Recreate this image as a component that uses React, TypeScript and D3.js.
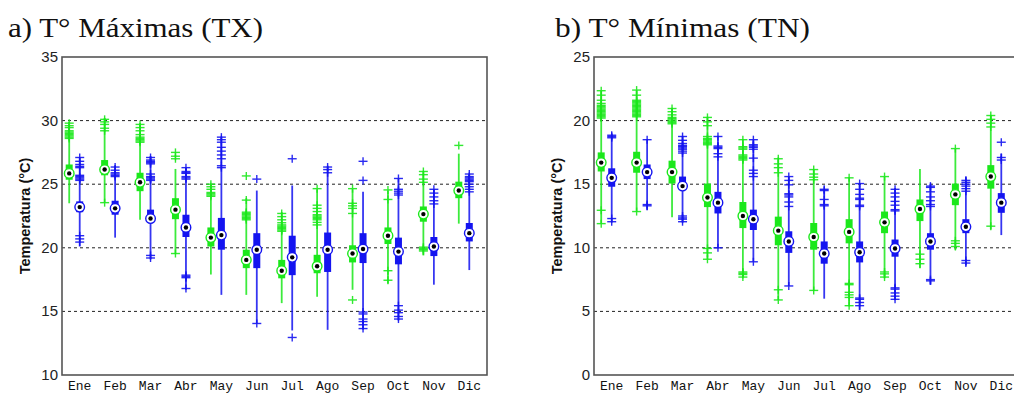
import React from "react";
import * as d3 from "d3";

const months = ["Ene", "Feb", "Mar", "Abr", "May", "Jun", "Jul", "Ago", "Sep", "Oct", "Nov", "Dic"];
const txTicks = [10, 15, 20, 25, 30, 35];
const tnTicks = [0, 5, 10, 15, 20, 25];

// [whisker low, q1, median, q3, whisker high] per month
const txGreenBox = [
  [23.5, 25.35, 25.85, 26.55, 29.9], [23.55, 25.7, 26.15, 26.9, 30.2], [22.2, 24.45, 25.15, 25.9, 29.8],
  [19.5, 22.25, 23.0, 23.9, 26.2], [17.9, 20.1, 20.8, 21.6, 25.0], [16.3, 18.4, 19.05, 19.85, 23.9],
  [15.65, 17.6, 18.2, 19.05, 22.8], [16.15, 18.0, 18.55, 19.45, 24.6], [16.7, 18.85, 19.55, 20.2, 24.6],
  [17.2, 20.3, 20.95, 21.6, 24.5], [19.4, 22.05, 22.65, 23.25, 26.0], [21.9, 23.9, 24.5, 25.2, 27.4],
];
const txGreenOut = [
  [29.8, 29.6, 29.45, 29.2, 29.1, 29.0, 28.9, 28.8, 28.7, 28.6],
  [30.1, 29.9, 29.7, 29.4, 29.2, 23.55],
  [29.7, 29.45, 29.2, 28.9, 28.7, 28.6, 28.5, 28.4, 28.3],
  [27.5, 27.2, 27.0, 19.55],
  [25.0, 24.8, 24.6, 24.35, 24.25, 24.15, 24.05],
  [25.65, 23.75, 22.8, 22.7, 22.6, 22.5, 22.4, 22.3, 22.2],
  [22.7, 22.45, 22.2, 21.97, 21.8, 21.7, 21.6, 21.5, 21.4, 21.3],
  [24.65, 23.35, 23.1, 22.85, 22.6, 22.5, 22.4, 22.3, 22.2, 22.0, 21.8],
  [24.65, 23.5, 23.3, 23.1, 22.7, 15.9],
  [24.55, 23.8, 18.2, 17.45],
  [26.0, 25.75, 25.4, 25.15, 20.05, 19.95, 19.85, 19.75],
  [28.05],
];
const txBlueBox = [
  [20.1, 22.8, 23.2, 23.65, 27.1], [20.8, 22.6, 23.1, 23.7, 26.5], [19.1, 21.95, 22.3, 23.0, 27.2],
  [16.7, 20.85, 21.6, 22.6, 26.3], [16.3, 19.85, 21.0, 22.35, 28.7], [14.05, 18.4, 19.85, 21.15, 24.5],
  [13.5, 17.85, 19.25, 20.95, 24.9], [13.55, 18.1, 19.85, 21.2, 26.4], [13.55, 18.8, 19.9, 21.15, 24.4],
  [14.3, 18.7, 19.7, 20.8, 25.45], [17.1, 19.35, 20.1, 20.85, 24.6], [18.25, 20.5, 21.15, 21.95, 25.8],
];
const txBlueOut = [
  [27.1, 26.8, 26.55, 26.4, 26.3, 25.7, 25.6, 25.5, 25.4, 25.3, 20.95, 20.7, 20.45],
  [26.35, 26.1, 25.9, 25.8, 25.7, 25.6],
  [27.1, 26.9, 26.8, 26.7, 26.6, 25.8, 25.6, 25.5, 25.4, 25.3, 19.4, 19.2],
  [26.3, 26.0, 25.9, 25.85, 25.6, 25.5, 25.4, 17.85, 17.75, 17.65, 16.8],
  [28.7, 28.5, 28.3, 27.9, 27.6, 27.3, 27.0, 26.45, 26.3],
  [25.4, 14.05],
  [27.0, 12.95],
  [26.35, 26.15, 25.9],
  [26.8, 25.3, 14.95, 14.8, 14.4, 14.2, 13.95, 13.65],
  [25.45, 24.6, 24.45, 24.3, 24.15, 15.45, 15.1, 14.9, 14.6, 14.4],
  [24.6, 24.3, 24.0, 23.7, 23.45],
  [25.8, 25.6, 25.5, 25.4, 25.3, 25.2, 25.0, 24.8, 24.6, 24.4],
];
const tnGreenBox = [
  [11.9, 16.0, 16.7, 17.5, 22.35], [12.85, 15.9, 16.7, 17.55, 22.4], [12.4, 15.05, 15.95, 16.85, 21.0],
  [9.1, 13.2, 13.95, 15.05, 20.3], [7.7, 11.55, 12.5, 13.6, 18.55], [5.9, 10.2, 11.35, 12.45, 17.1],
  [6.6, 9.85, 10.85, 11.95, 16.2], [5.4, 10.35, 11.25, 12.25, 15.55], [7.6, 11.15, 12.0, 12.85, 15.6],
  [8.4, 12.1, 13.05, 13.8, 16.2], [9.85, 13.35, 14.2, 15.05, 17.8], [11.45, 14.65, 15.6, 16.5, 20.45],
];
const tnGreenOut = [
  [22.35, 22.0, 21.6, 21.35, 21.2, 21.1, 21.0, 20.9, 20.8, 20.7, 20.6, 20.5, 20.4, 20.3, 20.2, 12.95, 11.9],
  [22.4, 22.0, 21.6, 21.5, 21.4, 21.3, 21.2, 21.1, 21.0, 20.9, 20.8, 20.7, 20.6, 20.5, 20.4, 20.3, 12.85],
  [20.95, 20.7, 20.45, 20.25, 20.15, 20.05, 19.95, 19.85, 19.75],
  [20.25, 19.9, 19.6, 18.75, 18.6, 18.5, 18.4, 18.3, 18.2, 18.1, 9.95, 9.6, 9.1],
  [18.5, 17.95, 17.85, 17.75, 17.3, 17.2, 17.1, 17.0, 16.9, 8.1, 8.0, 7.9, 7.7],
  [17.0, 16.6, 16.3, 15.9, 6.7, 5.9],
  [16.15, 15.8, 15.55, 15.35, 6.65],
  [15.5, 7.2, 7.1, 6.5, 6.3, 6.1, 5.45],
  [15.6, 8.1, 7.95, 7.7],
  [9.5, 9.1, 8.75],
  [17.8, 10.55, 10.35, 10.1],
  [20.4, 20.1, 19.8, 19.5, 11.7],
];
const tnBlueBox = [
  [12.0, 14.8, 15.5, 16.25, 18.9], [12.95, 15.4, 15.95, 16.55, 18.55], [12.0, 14.55, 14.85, 15.6, 18.8],
  [9.95, 12.7, 13.55, 14.4, 18.8], [8.9, 11.4, 12.25, 13.0, 18.5], [7.0, 9.6, 10.5, 11.3, 15.6],
  [6.0, 8.75, 9.55, 10.5, 14.6], [5.1, 8.85, 9.65, 10.5, 15.1], [5.9, 9.3, 9.95, 10.65, 14.7],
  [7.1, 9.85, 10.5, 11.15, 15.0], [8.6, 11.15, 11.65, 12.25, 15.6], [11.0, 12.75, 13.55, 14.3, 17.4],
];
const tnBlueOut = [
  [18.85, 18.75, 18.65, 12.3, 12.05],
  [18.5, 13.4, 13.3],
  [18.75, 18.45, 18.2, 18.05, 17.95, 17.85, 17.75, 17.6, 17.45, 12.5, 12.35, 12.25, 12.05],
  [18.75, 18.0, 17.9, 17.8, 17.4, 17.15, 10.0],
  [18.5, 18.1, 18.0, 17.9, 17.75, 17.05, 16.1, 15.85, 15.6, 8.9],
  [15.6, 15.3, 14.95, 14.25, 14.15, 14.0, 13.6, 13.25, 7.0],
  [14.6, 14.5, 13.8, 13.4, 13.3],
  [15.05, 14.6, 14.2, 13.9, 13.8, 13.35, 13.25, 6.05, 5.95, 5.7, 5.45],
  [14.6, 14.3, 14.0, 13.65, 13.35, 13.0, 12.9, 6.85, 6.75, 6.45, 6.2, 5.95],
  [14.85, 14.75, 14.4, 14.0, 13.7, 13.4, 13.25, 7.5, 7.4],
  [15.3, 15.15, 15.0, 14.85, 14.65, 14.45, 9.0, 8.8],
  [18.3, 17.1, 16.9],
];

const GREEN = "#1be81b";
const BLUE = "#1414f0";

type Series = { box: number[][]; out: number[][]; color: string; offset: number };

function Panel({ x0, x1, y0, y1, domain, ticks, title, titleX, series }: {
  x0: number; x1: number; y0: number; y1: number; domain: [number, number]; ticks: number[];
  title: string; titleX: number; series: Series[];
}) {
  const xs = d3.scaleBand<string>().domain(months).range([x0, x1]).padding(0);
  const ys = d3.scaleLinear().domain(domain).range([y1, y0]);
  const cx = (m: string) => (xs(m) as number) + xs.bandwidth() / 2;
  return (
    <g>
      <text x={titleX} y={37} fontFamily="'Liberation Serif', 'Times New Roman', serif" fontSize={28} fill="#111"
        textLength={255} lengthAdjust="spacingAndGlyphs">{title}</text>
      {ticks.slice(1, -1).map((t) => (
        <line key={"g" + t} x1={x0} x2={x1} y1={ys(t)} y2={ys(t)} stroke="#222" strokeWidth={1} strokeDasharray="3,3" />
      ))}
      <rect x={x0} y={y0} width={x1 - x0} height={y1 - y0} fill="none" stroke="#555" strokeWidth={1.6} />
      {ticks.map((t) => (
        <text key={"t" + t} x={x0 - 4} y={ys(t) + 5} textAnchor="end" fontFamily="Arial, 'Liberation Sans', sans-serif" fontSize={15} fill="#222">{t}</text>
      ))}
      {months.map((m) => (
        <text key={"m" + m} x={cx(m)} y={390} textAnchor="middle" fontFamily="'Liberation Mono', 'Courier New', monospace" fontSize={13} fill="#111">{m}</text>
      ))}
      <text transform={`translate(${x0 - 32},${(y0 + y1) / 2}) rotate(-90)`} textAnchor="middle" fontFamily="Arial, 'Liberation Sans', sans-serif" fontWeight="bold" fontSize={14.5} fill="#111">Temperatura (°C)</text>
      {series.map((s, si) => (
        <g key={"s" + si}>
          {months.map((m, i) => {
            const x = cx(m) + s.offset;
            const [lo, q1, med, q3, hi] = s.box[i];
            return (
              <g key={m}>
                <line x1={x} x2={x} y1={ys(lo)} y2={ys(hi)} stroke={s.color} strokeWidth={1.8} opacity={0.85} />
                {s.out[i].map((v, k) => (
                  <g key={k} stroke={s.color} strokeWidth={1.4} opacity={0.9}>
                    <line x1={x - 4.5} x2={x + 4.5} y1={ys(v)} y2={ys(v)} />
                    <line x1={x} x2={x} y1={ys(v) - 4} y2={ys(v) + 4} />
                  </g>
                ))}
                <line x1={x} x2={x} y1={ys(q1)} y2={ys(q3)} stroke={s.color} strokeWidth={7} />
                <circle cx={x} cy={ys(med)} r={4.8} fill="#fff" stroke={s.color} strokeWidth={1.4} />
                <circle cx={x} cy={ys(med)} r={2.2} fill="#000" />
              </g>
            );
          })}
        </g>
      ))}
    </g>
  );
}

export default function App() {
  return (
    <svg width={1014} height={393} style={{ position: "absolute", left: 0, top: 0, background: "#fff" }}>
      <rect width={1014} height={393} fill="#fff" />
      <Panel x0={62} x1={487} y0={57} y1={375} domain={[10, 35]} ticks={txTicks} title="a) T° Máximas (TX)" titleX={8}
        series={[{ box: txGreenBox, out: txGreenOut, color: GREEN, offset: -10.5 }, { box: txBlueBox, out: txBlueOut, color: BLUE, offset: 0 }]} />
      <Panel x0={594} x1={1019} y0={57} y1={375} domain={[0, 25]} ticks={tnTicks} title="b) T° Mínimas (TN)" titleX={555}
        series={[{ box: tnGreenBox, out: tnGreenOut, color: GREEN, offset: -10.5 }, { box: tnBlueBox, out: tnBlueOut, color: BLUE, offset: 0 }]} />
    </svg>
  );
}
